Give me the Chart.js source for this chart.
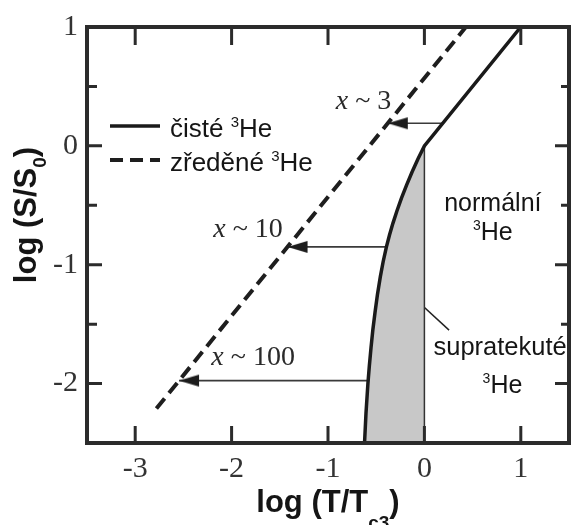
<!DOCTYPE html>
<html>
<head>
<meta charset="utf-8">
<style>
  html, body { margin: 0; padding: 0; background: #fff; }
  canvas { display: block; }
</style>
<script src="https://cdn.jsdelivr.net/npm/chart.js@4.4.1/dist/chart.umd.min.js"></script>
</head>
<body>
<canvas id="chart" width="575" height="525"></canvas>
<script>
// Entropy of pure and diluted 3He versus reduced temperature (log–log)

// axis ranges and tick values
const xMin = -3.5, xMax = 1.5;
const yMin = -2.5, yMax = 1;
const xTickValues = [-3, -2, -1, 0, 1];
const yTickValues = [-2, -1, 0, 1];
const yMinorValues = [0.5, -0.5, -1.5];

// pure 3He, normal phase: straight line down to T = Tc
const normalX = [1, 0];
const normalY = [1, 0];

// pure 3He below Tc (superfluid branch)
const superX = [0, -0.067, -0.128, -0.185, -0.238, -0.286, -0.326, -0.362, -0.394, -0.428, -0.457, -0.487, -0.512, -0.535, -0.554, -0.571, -0.586, -0.606, -0.621];
const superY = [0, -0.11, -0.22, -0.33, -0.44, -0.55, -0.65, -0.75, -0.85, -0.975, -1.1, -1.25, -1.4, -1.55, -1.7, -1.85, -2.0, -2.25, -2.5];

// diluted 3He
const diluteX = [-2.78, 0.43];
const diluteY = [-2.21, 1.0];

// dilution arrows: entropy level, start on pure curve, end on diluted line
const arrowLevels = [0.19, -0.85, -1.975];
const arrowFrom = [0.2, -0.394, -0.584];
const arrowTo = [-0.38, -1.42, -2.545];
const arrowLabels = ['3', '10', '100'];

// pointer line to the superfluid region
const pointerX = [-0.18, 0.256];
const pointerY = [-1.225, -1.55];

const seriesNames = ['čisté ³He', 'zředěné ³He'];

const pts = (xs, ys) => xs.map((v, i) => ({ x: v, y: ys[i] }));

// left-pointing arrowhead with its tip at the image centre
function makeArrowHead(len, half, color) {
  const c = document.createElement('canvas');
  c.width = len * 2 + 2;
  c.height = half * 2 + 2;
  const g = c.getContext('2d');
  const cx = c.width / 2, cy = c.height / 2;
  g.fillStyle = color;
  g.beginPath();
  g.moveTo(cx, cy);
  g.lineTo(cx + len, cy - half);
  g.lineTo(cx + len, cy + half);
  g.closePath();
  g.fill();
  return c;
}
const arrowHead = makeArrowHead(20, 6, '#1c1c1c');

const SANS = "'Liberation Sans', Arial, sans-serif";
const SERIF = "'Liberation Serif', 'Times New Roman', serif";
const INK = '#151515';

const pureData = pts(normalX, normalY).concat(pts(superX, superY));
const superRegion = pts(superX, superY).concat([{ x: superX[0], y: yMin }, { x: superX[0], y: superY[0] }]);

const datasets = [
  {
    label: seriesNames[0], data: pureData,
    borderColor: '#1a1a1a', borderWidth: 3.5, tension: 0, fill: false,
    pointRadius: 0, legendEntry: true
  },
  {
    label: seriesNames[1], data: pts(diluteX, diluteY),
    borderColor: '#1e1e1e', borderWidth: 4, borderDash: [13, 7], tension: 0, fill: false,
    pointRadius: 0, legendEntry: true
  },
  {
    data: superRegion,
    borderColor: '#333', borderWidth: 1.5, backgroundColor: '#c8c8c8', fill: 'shape',
    tension: 0, pointRadius: 0
  },
  {
    data: pts(pointerX, pointerY),
    borderColor: '#222', borderWidth: 1.5, pointRadius: 0, fill: false
  }
].concat(arrowLevels.map((lvl, i) => ({
  data: [{ x: arrowFrom[i], y: lvl }, { x: arrowTo[i], y: lvl }],
  borderColor: '#3a3a3a', borderWidth: 1.6, fill: false,
  pointRadius: [0, 6], pointStyle: arrowHead, pointBackgroundColor: '#1c1c1c', pointBorderWidth: 0
})));

// draw a run of text pieces (for sub/superscripts) centred or from a left edge
function drawRuns(ctx, runs, x, baseline, align) {
  let total = 0;
  runs.forEach(r => { ctx.font = r.font; total += ctx.measureText(r.t).width; });
  let cx = align === 'center' ? x - total / 2 : x;
  ctx.textAlign = 'left';
  ctx.textBaseline = 'alphabetic';
  runs.forEach(r => {
    ctx.font = r.font;
    ctx.fillText(r.t, cx, baseline + (r.dy || 0));
    cx += ctx.measureText(r.t).width;
  });
}

// split a label so that "³" is set as a small raised 3
function supRuns(str, size) {
  const runs = [];
  str.split('³').forEach((part, i) => {
    if (i > 0) runs.push({ t: '3', font: `${Math.round(size * 0.58)}px ${SANS}`, dy: -Math.round(size * 0.38) });
    if (part) runs.push({ t: part, font: `${size}px ${SANS}` });
  });
  return runs;
}

const decor = {
  id: 'decor',
  afterDraw(chart) {
    const { ctx, chartArea: a, scales: { x, y } } = chart;
    ctx.save();

    // inward tick marks
    ctx.strokeStyle = '#2b2b2b';
    ctx.lineWidth = 3;
    ctx.beginPath();
    xTickValues.forEach(v => {
      const px = x.getPixelForValue(v);
      ctx.moveTo(px, a.top); ctx.lineTo(px, a.top + 18);
      ctx.moveTo(px, a.bottom); ctx.lineTo(px, a.bottom - 17);
    });
    yTickValues.forEach(v => {
      const py = y.getPixelForValue(v);
      ctx.moveTo(a.left, py); ctx.lineTo(a.left + 15, py);
      ctx.moveTo(a.right, py); ctx.lineTo(a.right - 14, py);
    });
    yMinorValues.forEach(v => {
      const py = y.getPixelForValue(v);
      ctx.moveTo(a.left, py); ctx.lineTo(a.left + 10, py);
      ctx.moveTo(a.right, py); ctx.lineTo(a.right - 8, py);
    });
    ctx.stroke();

    // frame
    ctx.lineWidth = 4;
    ctx.strokeRect(a.left, a.top, a.right - a.left, a.bottom - a.top);

    ctx.fillStyle = INK;

    // axis titles
    const bold = s => `bold ${s}px ${SANS}`;
    drawRuns(ctx, [
      { t: 'log (T/T', font: bold(31) },
      { t: 'c3', font: bold(19), dy: 17 },
      { t: ')', font: bold(31) }
    ], (a.left + a.right) / 2, 512, 'center');

    ctx.save();
    ctx.translate(36, 215);
    ctx.rotate(-Math.PI / 2);
    drawRuns(ctx, [
      { t: 'log (S/S', font: bold(31) },
      { t: '0', font: bold(19), dy: 10 },
      { t: ')', font: bold(31) }
    ], 0, 0, 'center');
    ctx.restore();

    // legend
    const rows = [126, 160];
    chart.data.datasets.filter(d => d.legendEntry).forEach((d, i) => {
      ctx.save();
      ctx.strokeStyle = d.borderColor;
      ctx.lineWidth = d.borderWidth;
      ctx.setLineDash(d.borderDash || []);
      ctx.beginPath();
      ctx.moveTo(110, rows[i]);
      ctx.lineTo(160, rows[i]);
      ctx.stroke();
      ctx.restore();
      drawRuns(ctx, supRuns(d.label, 26), 170, rows[i] + 11, 'left');
    });

    // dilution ratio notes
    const noteAnchors = [{ x: -0.92, y: 0.39 }, { x: -2.19, y: -0.69 }, { x: -2.21, y: -1.77 }];
    arrowLabels.forEach((lab, i) => {
      const px = x.getPixelForValue(noteAnchors[i].x);
      const py = y.getPixelForValue(noteAnchors[i].y) + 9;
      ctx.fillStyle = '#2a2a2a';
      drawRuns(ctx, [
        { t: 'x', font: `italic 28px ${SERIF}` },
        { t: ' ~ ' + lab, font: `28px ${SERIF}` }
      ], px, py, 'left');
    });

    // phase labels
    ctx.fillStyle = INK;
    const phase = (str, vx, vy, size) =>
      drawRuns(ctx, supRuns(str, size), x.getPixelForValue(vx), y.getPixelForValue(vy) + 9, 'center');
    phase('normální', 0.71, -0.47, 25);
    phase('³He', 0.71, -0.72, 25);
    phase('supratekuté', 0.785, -1.685, 25.5);
    phase('³He', 0.81, -2.0, 25);

    ctx.restore();
  }
};

new Chart(document.getElementById('chart'), {
  type: 'line',
  data: { datasets },
  options: {
    responsive: false,
    animation: false,
    devicePixelRatio: 1,
    events: [],
    layout: { padding: { left: 0, top: 24, right: 1, bottom: 0 } },
    plugins: { legend: { display: false }, tooltip: { enabled: false } },
    scales: {
      x: {
        type: 'linear', min: xMin, max: xMax,
        afterBuildTicks: s => { s.ticks = xTickValues.map(v => ({ value: v })); },
        afterFit: s => { s.height = 82; },
        grid: { display: false, drawTicks: false },
        border: { display: false },
        ticks: { font: { family: SERIF, size: 30 }, color: '#333', padding: 8, maxRotation: 0, autoSkip: false }
      },
      y: {
        type: 'linear', min: yMin, max: yMax,
        afterBuildTicks: s => { s.ticks = yTickValues.map(v => ({ value: v })); },
        afterFit: s => { s.width = 87; },
        grid: { display: false, drawTicks: false },
        border: { display: false },
        ticks: { font: { family: SERIF, size: 30 }, color: '#333', padding: 9, autoSkip: false }
      }
    }
  },
  plugins: [decor]
});
</script>
</body>
</html>
